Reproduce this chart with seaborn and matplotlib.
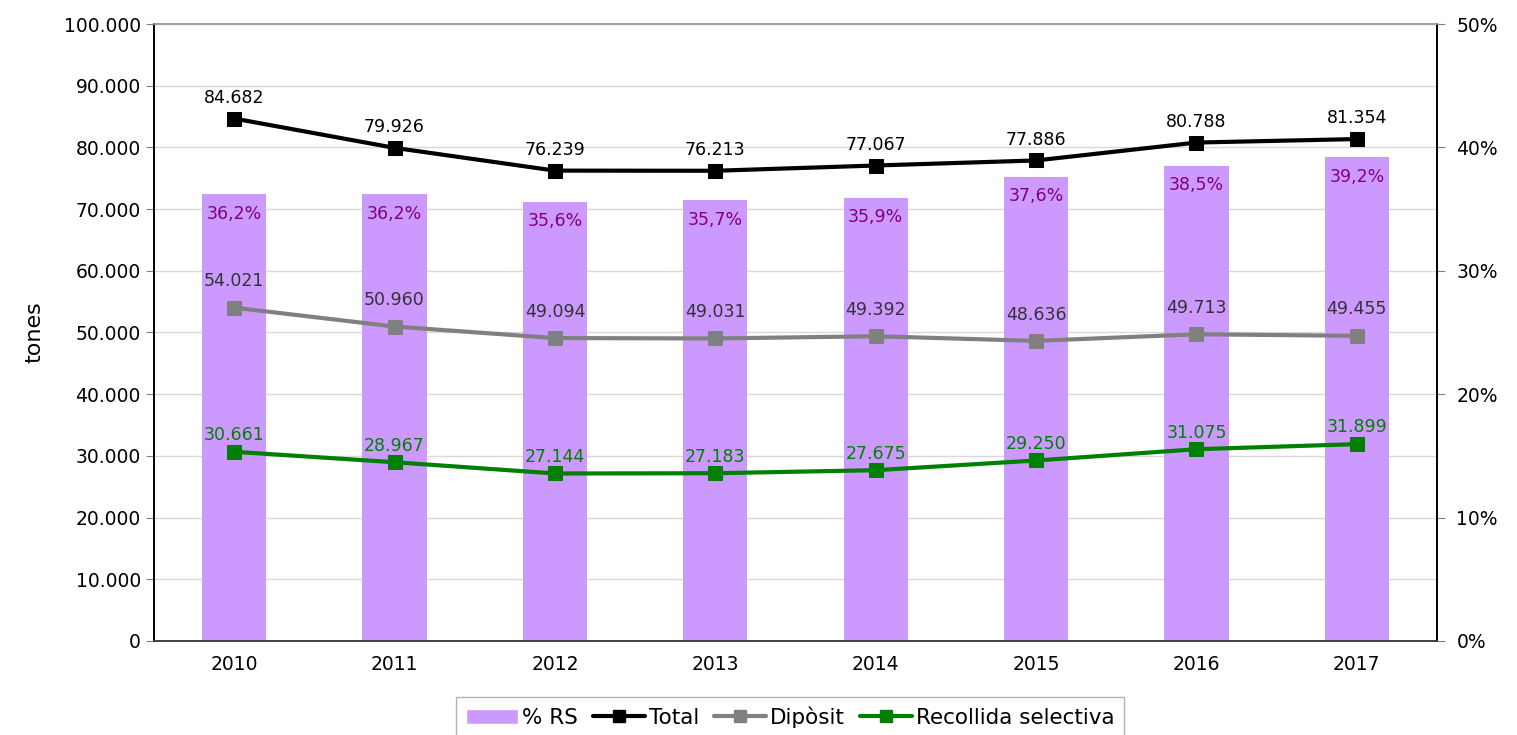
import numpy as np
import pandas as pd
import matplotlib
matplotlib.use("Agg")
from matplotlib import pyplot as plt
from matplotlib.ticker import FuncFormatter, MultipleLocator
from matplotlib.lines import Line2D
from matplotlib.patches import Patch
import seaborn as sns

years = ["2010", "2011", "2012", "2013", "2014", "2015", "2016", "2017"]
pct_rs = [36.2, 36.2, 35.6, 35.7, 35.9, 37.6, 38.5, 39.2]
total = [84682, 79926, 76239, 76213, 77067, 77886, 80788, 81354]
diposit = [54021, 50960, 49094, 49031, 49392, 48636, 49713, 49455]
recollida = [30661, 28967, 27144, 27183, 27675, 29250, 31075, 31899]

sns.set_style("white")
plt.rcParams["font.family"] = ["DejaVu Sans"]
plt.rcParams["text.color"] = "black"
plt.rcParams["xtick.color"] = "black"
plt.rcParams["ytick.color"] = "black"
plt.rcParams["axes.labelcolor"] = "black"

def thousands(v, pos=None):
    return f"{int(v):,}".replace(",", ".")

fig = plt.figure(figsize=(15.17, 7.35), dpi=100)
ax = fig.add_axes([0.1015, 0.128, 0.8458, 0.8393])
ax2 = ax.twinx()

# bars (percent) on the right axis, grid below them
df_bar = pd.DataFrame({"year": years, "pct": [p / 100 for p in pct_rs]})
sns.barplot(data=df_bar, x="year", y="pct", ax=ax2, color="#cc99ff",
            saturation=1, width=0.4, zorder=2, linewidth=0)
ax2.set_ylim(0, 0.5)
ax2.yaxis.set_major_locator(MultipleLocator(0.1))
ax2.yaxis.set_minor_locator(MultipleLocator(0.05))
ax2.grid(True, which="both", axis="y", color="#d9d9d9", lw=1, zorder=0)
ax2.set_axisbelow(True)
ax2.yaxis.set_major_formatter(FuncFormatter(lambda v, p: f"{v*100:.0f}%"))
ax2.set_ylabel("")
for i, p in enumerate(pct_rs):
    ax2.annotate(f"{p:.1f}%".replace(".", ","), (i, p / 100), xytext=(0, -14),
                 textcoords="offset points", ha="center", va="center",
                 fontsize=12.5, color="#800080")

# lines on the left axis, drawn above the bars
ax.set_zorder(ax2.get_zorder() + 1)
ax.patch.set_visible(False)
x = np.arange(len(years))
series = [("Total", total, "black", "black", 15),
          ("Dipòsit", diposit, "#808080", "#333333", 19),
          ("Recollida selectiva", recollida, "#008000", "#008000", 12)]
for name, vals, col, tcol, off in series:
    sns.lineplot(x=x, y=vals, ax=ax, color=col, lw=3, marker="s",
                 markersize=10, markeredgecolor=col, label=name, legend=False)
    for i, v in enumerate(vals):
        ax.annotate(thousands(v), (i, v), xytext=(0, off), textcoords="offset points",
                    ha="center", va="center", fontsize=12.5, color=tcol)

ax.set_ylim(0, 100000)
ax.set_xlim(-0.5, len(years) - 0.5)
ax.yaxis.set_major_locator(MultipleLocator(10000))
ax.yaxis.set_major_formatter(FuncFormatter(thousands))
ax.set_ylabel("tones", fontsize=16, labelpad=14)
ax.set_xticks(x)
ax.set_xticklabels(years)
ax.set_xticks(np.arange(-0.5, len(years)), minor=True)
ax.tick_params(axis="x", which="major", length=0, labelsize=13.5, pad=10)
ax.tick_params(axis="x", which="minor", length=6, color="#808080", direction="out")
ax.tick_params(axis="y", length=6, color="#808080", labelsize=13.5, left=True, direction="out")
ax2.tick_params(axis="y", which="major", length=6, color="#808080", labelsize=13.5,
                right=True, direction="out", pad=8)
ax2.tick_params(axis="y", which="minor", length=0)

for a in (ax, ax2):
    a.spines["left"].set_color("black")
    a.spines["right"].set_color("black")
    a.spines["bottom"].set_color("#404040")
    a.spines["top"].set_color("#a0a0a0")
    for s in a.spines.values():
        s.set_linewidth(1.2)

handles = [Patch(facecolor="#cc99ff", label="% RS")]
for name, vals, col, tcol, off in series:
    handles.append(Line2D([0], [0], color=col, lw=3, marker="s", markersize=9, label=name))
leg = fig.legend(handles=handles, loc="upper center", bbox_to_anchor=(0.521, 0.067),
                 ncol=4, fontsize=15.5, frameon=True, fancybox=False, edgecolor="#a0a0a0",
                 handlelength=2.4, handletextpad=0.2, columnspacing=0.7, borderpad=0.45)
leg.get_frame().set_linewidth(1.0)

fig.savefig("out.png", dpi=100)
